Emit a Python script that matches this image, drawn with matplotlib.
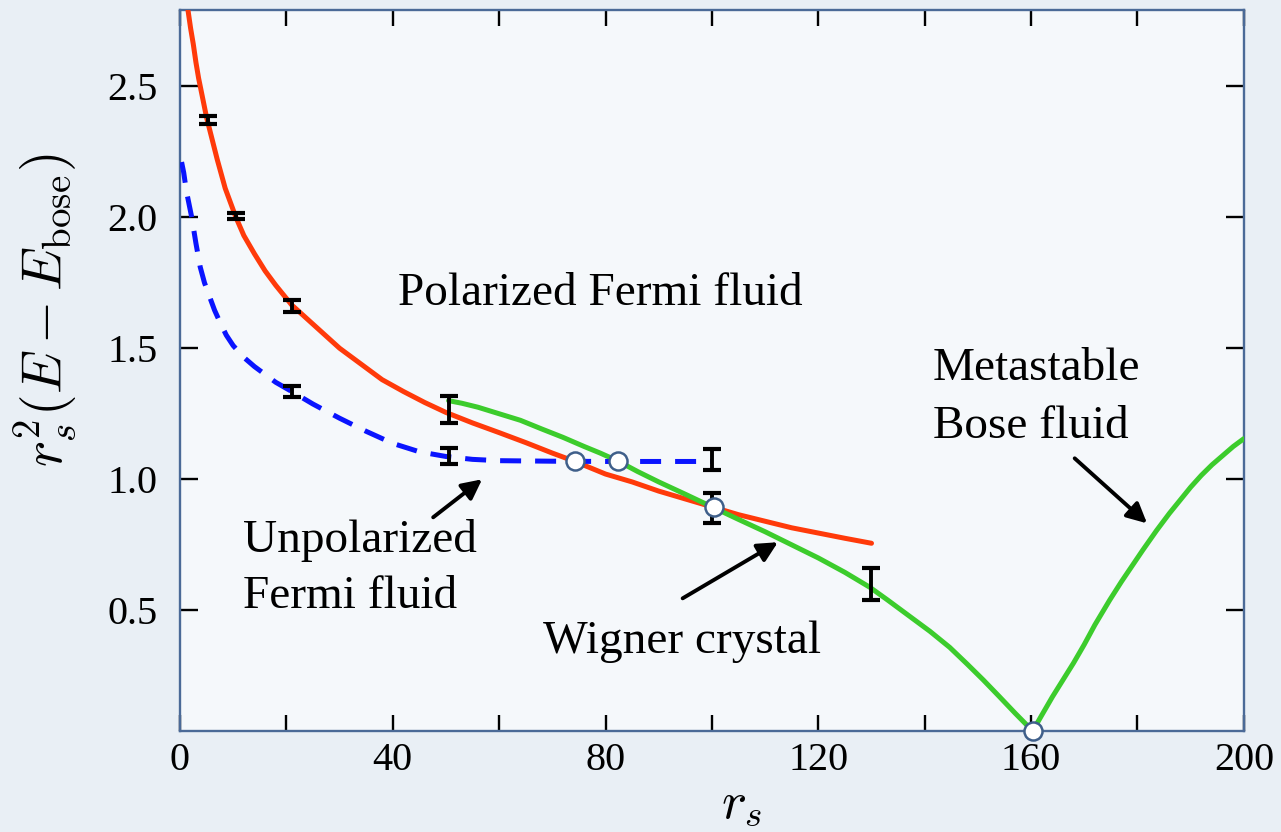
import numpy as np
import matplotlib
matplotlib.use("Agg")
import matplotlib.pyplot as plt

# polarized Fermi fluid (red)
pol_rs = [1.5, 2.0, 2.5, 3.0, 3.5, 4.0, 5.0, 6.0, 7.0, 8.5, 10.5, 12, 14, 16, 18, 21, 24, 27, 30, 34, 38, 42, 46,
          50, 55, 60, 65, 70, 74, 77, 80, 85, 90, 95, 100, 105, 110, 115, 120, 125, 130]
pol_e = [2.79, 2.72, 2.66, 2.59, 2.53, 2.48, 2.38, 2.30, 2.22, 2.11, 2.00, 1.93, 1.86, 1.795, 1.74, 1.665, 1.61, 1.555, 1.50, 1.44, 1.38, 1.335, 1.293,
         1.255, 1.215, 1.178, 1.14, 1.10, 1.07, 1.045, 1.02, 0.99, 0.955, 0.925, 0.895, 0.865, 0.84, 0.815, 0.795, 0.775, 0.756]

# unpolarized Fermi fluid (blue dashed)
unp_rs = [0.3, 0.7, 1.2, 1.7, 2.2, 3.0, 3.8, 4.6, 5.5, 6.5, 7.5, 8.7, 10, 12, 14, 16, 18, 21, 25, 30, 35, 40, 45,
          50, 55, 60, 70, 80, 100]
unp_e = [2.21, 2.17, 2.10, 2.05, 2.00, 1.90, 1.81, 1.75, 1.70, 1.645, 1.60, 1.55, 1.51, 1.465, 1.43, 1.40, 1.37, 1.335, 1.287, 1.233, 1.183, 1.137, 1.105,
         1.087, 1.076, 1.071, 1.069, 1.068, 1.068]

# Wigner crystal / metastable Bose fluid (green)
wig_rs = [50.5, 53, 56, 60, 64, 68, 72, 76, 79, 82.3, 86, 90, 95, 100, 105, 110, 113.3, 117, 120, 125, 129.7,
          133, 137, 141, 144.7, 148, 151, 154, 157, 160.3,
          162, 164, 166, 168, 170, 172, 174.8, 177, 179, 181, 183.6, 186, 188, 190, 192, 194, 196, 198, 200]
wig_e = [1.30, 1.29, 1.275, 1.25, 1.225, 1.192, 1.16, 1.125, 1.10, 1.07, 1.03, 0.99, 0.943, 0.895, 0.847, 0.80, 0.767, 0.73, 0.70, 0.645, 0.588,
         0.54, 0.48, 0.42, 0.359, 0.295, 0.235, 0.172, 0.108, 0.04,
         0.10, 0.17, 0.235, 0.30, 0.37, 0.445, 0.54, 0.61, 0.67, 0.73, 0.805, 0.87, 0.92, 0.97, 1.015, 1.055, 1.09, 1.125, 1.155]

# QMC points with error bars
qmc_rs = [5.3, 10.5, 21, 21, 50.5, 50.5, 100, 100, 130]
qmc_e = [2.37, 2.005, 1.66, 1.335, 1.265, 1.09, 1.075, 0.89, 0.60]
qmc_err = [0.015, 0.012, 0.022, 0.022, 0.052, 0.03, 0.04, 0.057, 0.06]

# transition points
cross_rs = [74.2, 82.3, 100.3, 160.3]
cross_e = [1.069, 1.069, 0.895, 0.04]

xticks = [0, 40, 80, 120, 160, 200]
xminor = [20, 60, 100, 140, 180]
yticks = [0.5, 1.0, 1.5, 2.0, 2.5]

plt.rcParams['font.family'] = ['Liberation Serif', 'DejaVu Serif']
plt.rcParams['mathtext.fontset'] = 'cm'

fig = plt.figure(figsize=(12.81, 8.32), dpi=100, facecolor='#e9eff5')
ax = fig.add_axes([0.1405, 0.1214, 0.8305, 0.8666])
ax.set_facecolor('#f5f8fb')

ax.plot(pol_rs, pol_e, color='#ff3a0a', lw=3.6, zorder=3, solid_capstyle='round')
ax.plot(wig_rs, wig_e, color='#3ccc2c', lw=3.6, zorder=3, solid_capstyle='round')
ax.plot(unp_rs, unp_e, color='#0a14ff', lw=3.6, dashes=(4.2, 2.8), zorder=3)
ax.errorbar(qmc_rs, qmc_e, yerr=qmc_err, fmt='none', ecolor='k', elinewidth=2.8,
            capsize=6.5, capthick=3, zorder=4)
ax.plot(cross_rs, cross_e, 'o', ms=13, mfc='white', mec='#3f5f8a', mew=1.8,
        zorder=5, clip_on=False)

fs = 34
ax.text(41.0, 1.664, 'Polarized Fermi fluid', fontsize=fs, va='baseline')
ax.text(11.8, 0.721, 'Unpolarized', fontsize=fs, va='baseline')
ax.text(11.8, 0.511, 'Fermi fluid', fontsize=fs, va='baseline')
ax.text(68.2, 0.336, 'Wigner crystal', fontsize=fs, va='baseline')
ax.text(141.5, 1.378, 'Metastable', fontsize=fs, va='baseline')
ax.text(141.5, 1.156, 'Bose fluid', fontsize=fs, va='baseline')

arrow = dict(arrowstyle='-|>', color='k', lw=2.8, mutation_scale=30, shrinkA=0, shrinkB=0)
ax.annotate('', xy=(56.8, 1.0), xytext=(47.6, 0.855), arrowprops=arrow)
ax.annotate('', xy=(112.4, 0.76), xytext=(94.5, 0.546), arrowprops=arrow)
ax.annotate('', xy=(181.8, 0.832), xytext=(168.2, 1.08), arrowprops=arrow)

ax.set_xlim(0, 200)
ax.set_ylim(0.04, 2.79)
ax.set_xticks(xticks)
ax.set_xticks(xminor, minor=True)
ax.set_xticklabels([str(t) for t in xticks])
ax.set_yticks(yticks)
ax.set_yticklabels(['%.1f' % t for t in yticks])
ax.tick_params(axis='x', which='both', direction='in', length=11.5, width=1.7,
               top=True, labelsize=29, pad=8)
ax.tick_params(axis='y', direction='in', length=13, width=1.7, right=True,
               labelsize=29, pad=16)
for s in ax.spines.values():
    s.set_color('#4b6a97')
    s.set_linewidth(1.7)

ax.set_xlabel(r'$r_s$', fontsize=38)
ax.set_ylabel(r'$r_s^2(E - E_{\rm bose})$', fontsize=40)
ax.xaxis.set_label_coords(0.528, -0.07)
ax.yaxis.set_label_coords(-0.095, 0.584)

fig.savefig('out.png', dpi=100, facecolor=fig.get_facecolor())
